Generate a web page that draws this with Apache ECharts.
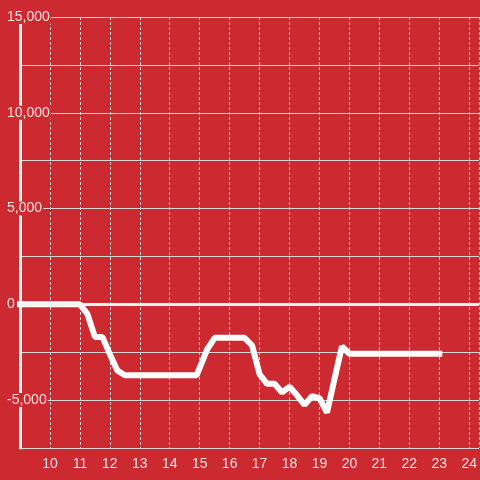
<!DOCTYPE html>
<html>
<head>
<meta charset="utf-8">
<script src="https://cdn.jsdelivr.net/npm/echarts@6/dist/echarts.min.js"></script>
<style>
  html, body { margin: 0; padding: 0; background: #cc2a30; }
  #chart { width: 480px; height: 480px; }
</style>
</head>
<body>
<div id="chart"></div>
<script>
// hour of day -> value
const hours = [9, 11, 11.25, 11.5, 11.75, 12, 12.25, 12.5, 14.9, 15.25, 15.5, 16.5, 16.75, 17, 17.25, 17.5, 17.75, 18, 18.25, 18.5, 18.75, 19, 19.25, 19.5, 19.75, 20, 23];
const values = [0, 0, -500, -1700, -1700, -2600, -3450, -3700, -3700, -2350, -1750, -1750, -2150, -3650, -4150, -4150, -4600, -4300, -4750, -5250, -4800, -4900, -5650, -3900, -2200, -2580, -2580];
const yLabelValues = [-5000, 0, 5000, 10000, 15000];

const labelColor = '#f3e2e2';
const gridColor = '#d6d6d6';

const chart = echarts.init(document.getElementById('chart'));

chart.setOption({
  animation: false,
  backgroundColor: '#cc2a30',
  textStyle: { fontFamily: 'Liberation Sans, Arial, sans-serif' },
  grid: { left: 20, right: 0, top: 17, bottom: 32, containLabel: false },
  xAxis: {
    type: 'value',
    min: 9,
    max: 24.33,
    interval: 1,
    axisLine: { show: false, onZero: false },
    axisTick: { show: false },
    axisLabel: {
      color: labelColor,
      fontSize: 14,
      margin: 9,
      showMinLabel: false,
      showMaxLabel: false
    },
    splitLine: { show: true, lineStyle: { color: gridColor, width: 1, type: [3, 2] } }
  },
  yAxis: {
    type: 'value',
    min: -7500,
    max: 15000,
    interval: 2500,
    axisLine: { show: true, lineStyle: { color: '#f2f2f2', width: 3 } },
    axisTick: { show: false },
    axisLabel: {
      color: labelColor,
      fontSize: 14,
      align: 'left',
      margin: 14,
      backgroundColor: '#cc2a30',
      padding: [0, 1],
      formatter: v => yLabelValues.includes(v) ? v.toLocaleString('en-US') : ''
    },
    splitLine: { show: true, lineStyle: { color: gridColor, width: 1 } }
  },
  series: [{
    type: 'line',
    data: hours.map((h, i) => [h, values[i]]),
    showSymbol: false,
    lineStyle: { color: '#ffffff', width: 6, cap: 'square' },
    markLine: {
      silent: true,
      symbol: 'none',
      label: { show: false },
      lineStyle: { color: '#f4f4f4', width: 3, type: 'solid' },
      data: [{ yAxis: 0 }]
    }
  }]
});
</script>
</body>
</html>
